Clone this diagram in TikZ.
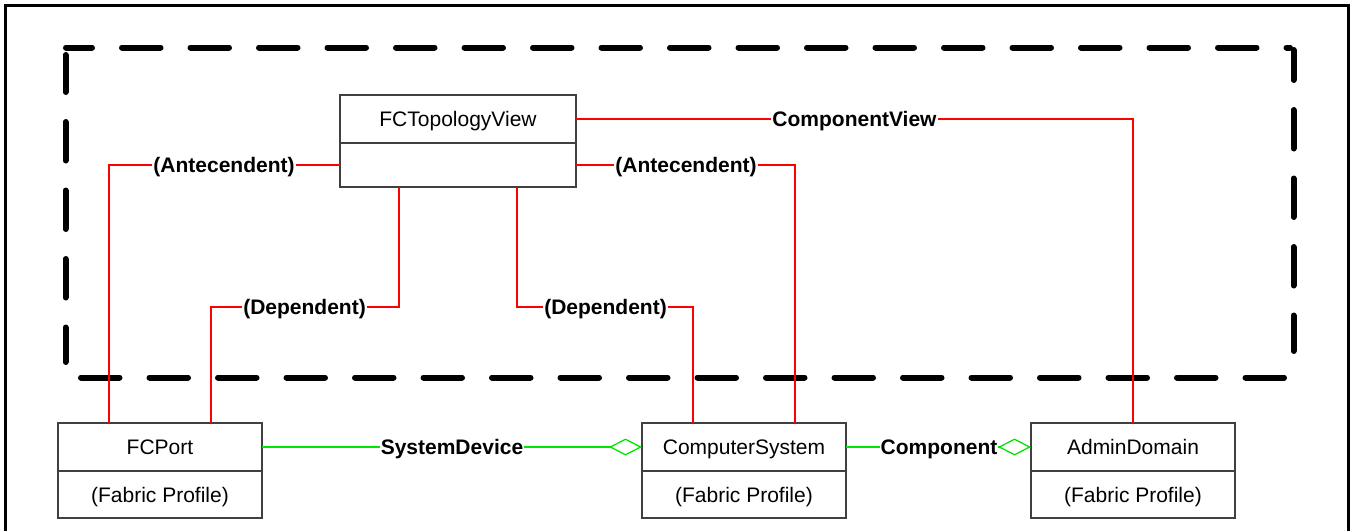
\documentclass[tikz,border=0pt]{standalone}
\usepackage{fontspec}
\setmainfont{Liberation Sans}
\usetikzlibrary{arrows.meta,calc}
\definecolor{boxgray}{RGB}{64,64,64}
\definecolor{linered}{RGB}{255,0,0}
\definecolor{linegreen}{RGB}{0,230,0}
\begin{document}
\begin{tikzpicture}[x=1pt,y=-1pt,
  box/.style={draw=boxgray, line width=1.5pt, inner sep=0pt, outer sep=0pt, minimum height=47pt, text height=15pt, text depth=0pt, font=\fontsize{21}{25}\selectfont},
  redl/.style={draw=linered, line width=2pt},
  greenl/.style={draw=linegreen, line width=2pt},
  aggr/.style={-{Diamond[open, length=33pt, width=17pt, line width=1.3pt]}},
  lbl/.style={fill=white, anchor=base, inner xsep=1pt, inner ysep=1pt, font=\bfseries\fontsize{21}{25}\selectfont},
  dashline/.style={draw=black, line width=6pt, line cap=round, dash pattern=on 38.5pt off 30pt}]
\useasboundingbox (0,0) rectangle (1351,531);
% outer frame
\draw[line width=3pt] (5.5,531) -- (5.5,5.5) -- (1348,5.5) -- (1348,531);
% dashed region
\draw[dashline, dash phase=12.5pt] (66,47.5) -- (1290,47.5);
\draw[dashline, dash phase=1.5pt] (65.5,55) -- (65.5,362);
\draw[dashline] (81,377.5) -- (1289,377.5);
\draw[dashline, dash phase=8.5pt] (1293.5,50) -- (1293.5,351);
% classes
\node[box, minimum width=236pt, minimum height=48pt, anchor=north west] (fctv) at (340,95) {FCTopologyView};
\node[box, minimum width=236pt, minimum height=44pt, anchor=north] (fctvb) at (fctv.south) {};
\node[box, minimum width=204pt, minimum height=48pt, anchor=north west] (fcport) at (58,423) {FCPort};
\node[box, minimum width=204pt, anchor=north] (fcportb) at (fcport.south) {(Fabric Profile)};
\node[box, minimum width=204pt, minimum height=48pt, anchor=north west] (cs) at (642,423) {ComputerSystem};
\node[box, minimum width=204pt, anchor=north] (csb) at (cs.south) {(Fabric Profile)};
\node[box, minimum width=204pt, minimum height=48pt, anchor=north west] (admin) at (1031,423) {AdminDomain};
\node[box, minimum width=204pt, anchor=north] (adminb) at (admin.south) {(Fabric Profile)};
% attachment points
\coordinate (pA) at ($(fcport.north west)!0.25!(fcport.north east)$);
\coordinate (pB) at ($(fcport.north west)!0.75!(fcport.north east)$);
\coordinate (cA) at ($(cs.north west)!0.25!(cs.north east)$);
\coordinate (cB) at ($(cs.north west)!0.75!(cs.north east)$);
\coordinate (tA) at ($(fctvb.south west)!0.25!(fctvb.south east)$);
\coordinate (tB) at ($(fctvb.south west)!0.75!(fctvb.south east)$);
\coordinate (dy) at (0,307);
% red connectors
\draw[redl] (fctv.east) -| (admin.north);
\draw[redl] (fctvb.west) -| (pA);
\draw[redl] (fctvb.east) -| (cB);
\draw[redl] (tA) -- (tA |- dy) -| (pB);
\draw[redl] (tB) -- (tB |- dy) -| (cA);
% green connectors
\draw[greenl, aggr] (fcport.east) -- (cs.west);
\draw[greenl, aggr] (cs.east) -- (admin.west);
% labels
\node[lbl] (lcv) at (854.5,126) {ComponentView};
\node[lbl] (la1) at (224,172) {(Antecendent)};
\node[lbl] (la2) at (686,172) {(Antecendent)};
\node[lbl] (ld1) at (304.5,314) {(Dependent)};
\node[lbl] (ld2) at (605.5,314) {(Dependent)};
\node[lbl] (lsd) at (452,454) {SystemDevice};
\node[lbl] (lc) at (939,454) {Component};
\end{tikzpicture}
\end{document}
